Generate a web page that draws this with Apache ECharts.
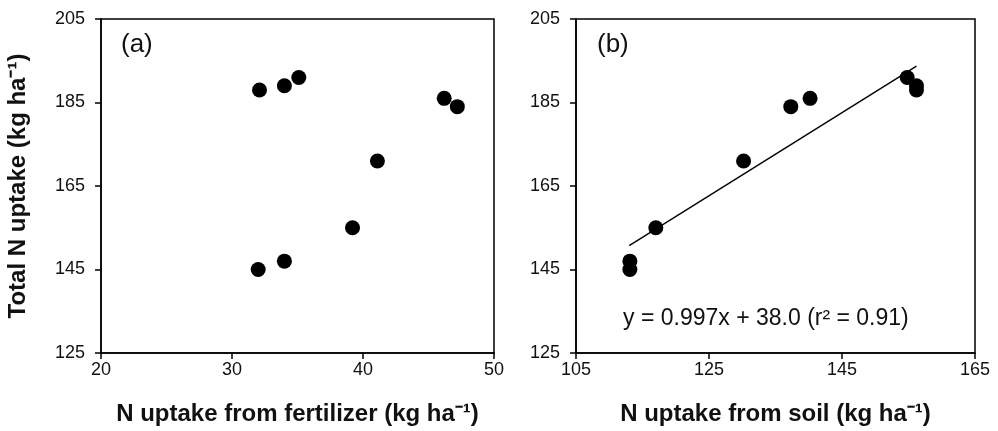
<!DOCTYPE html>
<html>
<head>
<meta charset="utf-8">
<script src="https://cdn.jsdelivr.net/npm/echarts@6/dist/echarts.min.js"></script>
<style>
html,body{margin:0;padding:0;background:#fff;}
#chart{width:998px;height:431px;}
</style>
</head>
<body>
<div id="chart"></div>
<script>
// Data
var totalUptake = [188, 189, 191, 186, 184, 171, 155, 147, 145];
var fertilizerUptake = [32.1, 34.0, 35.1, 46.2, 47.2, 41.1, 39.2, 34.0, 32.0];
var soilUptake = [156.2, 156.2, 154.8, 140.2, 137.3, 130.2, 117.0, 113.1, 113.1];
var fitX = [113, 156.2];
var fitY = [150.7, 193.7];
var yTicks = [125, 145, 165, 185, 205];
var xTicksA = [20, 30, 40, 50];
var xTicksB = [105, 125, 145, 165];
var panelLabels = ['(a)', '(b)'];
var equationText = 'y = 0.997x + 38.0 (r\u00B2 = 0.91)';
var xTitles = ['N uptake from fertilizer (kg ha\u207B\u00B9)', 'N uptake from soil (kg ha\u207B\u00B9)'];
var yTitle = 'Total N uptake (kg ha\u207B\u00B9)';

var FONT = "'Liberation Sans', Arial, Helvetica, sans-serif";
var TXT = '#111';

function pairs(xs, ys) { return xs.map(function (x, i) { return [x, ys[i]]; }); }

var chart = echarts.init(document.getElementById('chart'), null, {renderer: 'canvas'});

function xAxisCfg(idx, ticks, title) {
  return {
    type: 'value', gridIndex: idx,
    min: ticks[0], max: ticks[ticks.length - 1], interval: ticks[1] - ticks[0],
    name: title, nameLocation: 'middle', nameGap: 49,
    nameTextStyle: {fontFamily: FONT, fontSize: 24, fontWeight: 'bold', color: TXT},
    axisLine: {show: true, onZero: false, lineStyle: {color: '#000', width: 1.5}},
    axisTick: {show: true, inside: false, length: 6, lineStyle: {color: '#000', width: 1.5}},
    axisLabel: {fontFamily: FONT, fontSize: 18, color: TXT, margin: 8},
    splitLine: {show: false}
  };
}
function yAxisCfg(idx, title) {
  return {
    type: 'value', gridIndex: idx,
    min: yTicks[0], max: yTicks[yTicks.length - 1], interval: yTicks[1] - yTicks[0],
    name: title, nameLocation: 'middle', nameGap: 71,
    nameTextStyle: {fontFamily: FONT, fontSize: 24, fontWeight: 'bold', color: TXT},
    axisLine: {show: true, onZero: false, lineStyle: {color: '#000', width: 1.5}},
    axisTick: {show: true, inside: false, length: 6, lineStyle: {color: '#000', width: 1.5}},
    axisLabel: {fontFamily: FONT, fontSize: 18, color: TXT, margin: 16},
    splitLine: {show: false}
  };
}

var option = {
  backgroundColor: '#fff',
  animation: false,
  grid: [
    {left: 101, top: 19, width: 393, height: 336, show: true, borderColor: '#000', borderWidth: 1.5, backgroundColor: 'transparent'},
    {left: 576, top: 19, width: 399, height: 336, show: true, borderColor: '#000', borderWidth: 1.5, backgroundColor: 'transparent'}
  ],
  xAxis: [xAxisCfg(0, xTicksA, xTitles[0]), xAxisCfg(1, xTicksB, xTitles[1])],
  yAxis: [yAxisCfg(0, yTitle), yAxisCfg(1, '')],
  graphic: [
    {type: 'text', left: 121, top: 32, style: {text: panelLabels[0], font: '26px ' + FONT, fill: TXT}},
    {type: 'text', left: 597, top: 32, style: {text: panelLabels[1], font: '26px ' + FONT, fill: TXT}},
    {type: 'text', left: 623, top: 307, style: {text: equationText, font: '23px ' + FONT, fill: TXT}}
  ],
  series: [
    {type: 'scatter', xAxisIndex: 0, yAxisIndex: 0, symbol: 'circle', symbolSize: 15,
     itemStyle: {color: '#000', opacity: 1}, data: pairs(fertilizerUptake, totalUptake)},
    {type: 'line', xAxisIndex: 1, yAxisIndex: 1, symbol: 'none', z: 1,
     lineStyle: {color: '#000', width: 1.4}, data: pairs(fitX, fitY)},
    {type: 'scatter', xAxisIndex: 1, yAxisIndex: 1, symbol: 'circle', symbolSize: 15, z: 2,
     itemStyle: {color: '#000', opacity: 1}, data: pairs(soilUptake, totalUptake)}
  ]
};
chart.setOption(option);
</script>
</body>
</html>
